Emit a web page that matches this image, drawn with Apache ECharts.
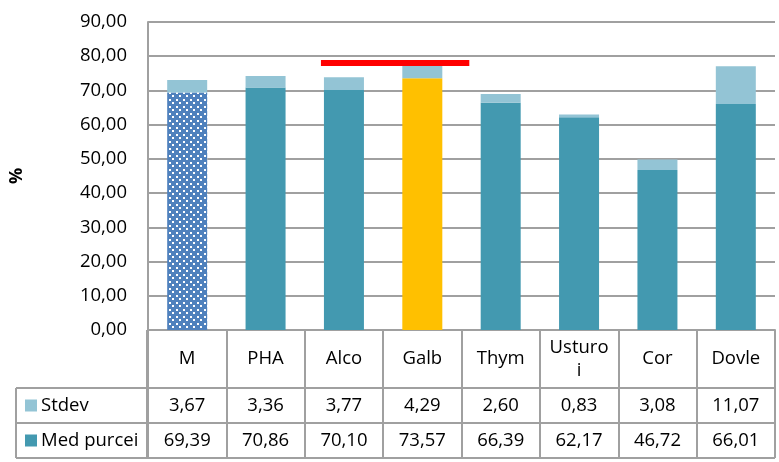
<!DOCTYPE html>
<html>
<head>
<meta charset="utf-8">
<style>
  html, body { margin: 0; padding: 0; background: #fff; }
  #chart { width: 779px; height: 462px; }
</style>
<script src="https://cdn.jsdelivr.net/npm/echarts@6/dist/echarts.min.js"></script>
</head>
<body>
<div id="chart"></div>
<script>
// Categories and measured values
const categories = ['M', 'PHA', 'Alco', 'Galb', 'Thym', 'Usturo\ni', 'Cor', 'Dovle'];
const medPurcei = [69.39, 70.86, 70.10, 73.57, 66.39, 62.17, 46.72, 66.01];
const stdev = [3.67, 3.36, 3.77, 4.29, 2.60, 0.83, 3.08, 11.07];
const yTicks = { min: 0, max: 90, interval: 10 };
// Bracket level drawn above Alco–Galb
const bracketLevel = 78;
const bracketFrom = 2, bracketTo = 3;

const FONT = '"Open Sans", "Liberation Sans", sans-serif';
const FS = 18.5;
const GRID = { left: 147, right: 4, top: 22, bottom: 132 };
const BORDER = '#a0a0a0';
const TEAL = '#4399b0';
const LIGHT = '#93c4d5';

const fmt = v => v.toFixed(2).replace('.', ',');

// Dotted fill for the first bar
function dotPattern() {
  const c = document.createElement('canvas');
  c.width = 7; c.height = 7;
  const g = c.getContext('2d');
  g.fillStyle = '#4f81bd';
  g.fillRect(0, 0, 7, 7);
  g.fillStyle = '#ffffff';
  g.fillRect(1, 1, 2, 2);
  g.fillRect(4, 4, 2, 2);
  return c;
}

const medData = medPurcei.map((v, i) => {
  if (i === 0) return { value: v, itemStyle: { color: { image: dotPattern(), repeat: 'repeat' } } };
  if (i === 3) return { value: v, itemStyle: { color: '#ffc000' } };
  return v;
});

const chart = echarts.init(document.getElementById('chart'), null, { renderer: 'canvas' });

chart.setOption({
  animation: false,
  textStyle: { fontFamily: FONT },
  grid: GRID,
  xAxis: {
    type: 'category',
    data: categories,
    axisLine: { lineStyle: { color: BORDER, width: 2 } },
    axisTick: { show: true, length: 128, lineStyle: { color: BORDER, width: 2 } },
    axisLabel: {
      color: '#000', fontSize: FS, fontFamily: FONT,
      margin: 29, verticalAlign: 'middle', lineHeight: 23, interval: 0
    }
  },
  yAxis: {
    type: 'value',
    min: yTicks.min, max: yTicks.max, interval: yTicks.interval,
    name: '%',
    nameLocation: 'middle',
    nameGap: 122,
    nameRotate: 90,
    nameTextStyle: { fontSize: 18, fontWeight: 'bold', color: '#000', fontFamily: FONT },
    axisLine: { show: true, lineStyle: { color: BORDER, width: 2 } },
    axisTick: { show: false },
    axisLabel: { color: '#000', fontSize: FS, margin: 21, fontFamily: FONT, formatter: v => fmt(v) },
    splitLine: { lineStyle: { color: BORDER, width: 2 } }
  },
  series: [
    {
      name: 'Med purcei', type: 'bar', stack: 'total', barWidth: 40,
      itemStyle: { color: TEAL },
      data: medData
    },
    {
      name: 'Stdev', type: 'bar', stack: 'total', barWidth: 40,
      itemStyle: { color: LIGHT },
      data: stdev
    }
  ]
});

// Data table under the plot, placed from the axis scales
function drawTable() {
  const left = GRID.left, right = 779 - GRID.right;
  const axisY = 462 - GRID.bottom;
  const row1 = axisY + 58, row2 = row1 + 35, row3 = row2 + 35;
  const tableLeft = 16;
  const els = [];
  const line = (x1, y1, x2, y2) => els.push({
    type: 'line', shape: { x1, y1, x2, y2 },
    style: { stroke: BORDER, lineWidth: 2 }, silent: true
  });
  line(tableLeft, row1, right, row1);
  line(tableLeft, row2, right, row2);
  line(tableLeft, row3, right, row3);
  line(tableLeft, row1, tableLeft, row3);
  line(left, axisY, left, row3);

  const text = (x, y, t, align) => els.push({
    type: 'text', x, y,
    style: { text: t, fill: '#000', font: FS + 'px ' + FONT, align: align || 'center', verticalAlign: 'middle' },
    silent: true
  });
  const rows = [
    { label: 'Stdev', color: LIGHT, values: stdev, y: (row1 + row2) / 2 },
    { label: 'Med purcei', color: TEAL, values: medPurcei, y: (row2 + row3) / 2 }
  ];
  rows.forEach(r => {
    els.push({ type: 'rect', shape: { x: 25, y: r.y - 6, width: 12, height: 12 }, style: { fill: r.color }, silent: true });
    text(41, r.y, r.label, 'left');
    r.values.forEach((v, i) => {
      const x = chart.convertToPixel({ xAxisIndex: 0 }, i);
      text(x, r.y, fmt(v));
    });
  });

  // Red bracket above the Alco and Galb bars
  const by = chart.convertToPixel({ yAxisIndex: 0 }, bracketLevel);
  const bx1 = chart.convertToPixel({ xAxisIndex: 0 }, bracketFrom) - 23;
  const bx2 = chart.convertToPixel({ xAxisIndex: 0 }, bracketTo) + 47;
  els.push({
    type: 'line', shape: { x1: bx1, y1: by, x2: bx2, y2: by },
    style: { stroke: '#ff0000', lineWidth: 6 }, silent: true, z: 100
  });

  chart.setOption({ graphic: els });
}
drawTable();
</script>
</body>
</html>
